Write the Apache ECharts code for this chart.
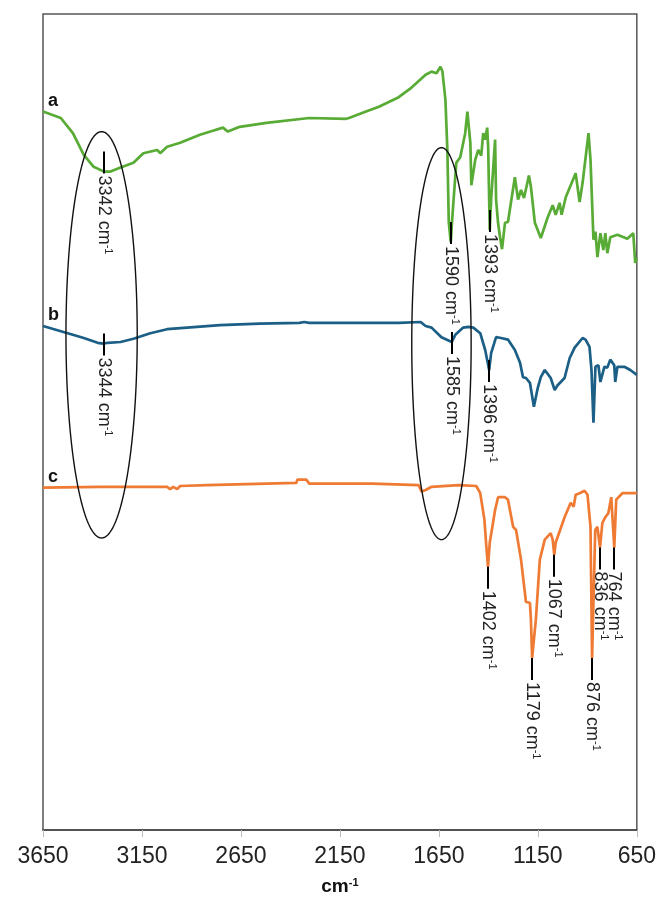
<!DOCTYPE html>
<html>
<head>
<meta charset="utf-8">
<script src="https://cdn.jsdelivr.net/npm/echarts@6/dist/echarts.min.js"></script>
<style>
  html, body { margin: 0; padding: 0; background: #fff; }
  #chart { width: 659px; height: 916px; }
</style>
</head>
<body>
<div id="chart"></div>
<script>
// FTIR spectra a, b, c: wavenumber (cm-1) against offset transmittance (a.u.)
const wavenumberTicks = [3650, 3150, 2650, 2150, 1650, 1150, 650];

const spectrumA = [
  [3650,89.8],[3560,89.0],[3499,87.1],[3444,84.4],[3394,82.9],[3342,82.3],[3309,82.3],[3258,82.8],
  [3193,83.4],[3143,84.6],[3073,85.0],[3058,84.6],[3023,85.4],[2957,85.9],[2857,86.9],[2792,87.4],
  [2741,87.8],[2716,87.3],[2656,87.9],[2521,88.4],[2305,89.0],[2119,88.9],[2104,89.0],[2018,89.8],
  [1953,90.4],[1853,91.6],[1788,92.8],[1717,94.4],[1687,94.8],[1662,94.6],[1642,95.4],[1632,94.8],
  [1617,91.3],[1607,85.0],[1600,76.0],[1590,73.5],[1582,76.6],[1562,83.4],[1542,84.1],[1517,87.1],
  [1506,89.8],[1491,85.9],[1486,80.6],[1466,83.8],[1451,85.0],[1436,84.3],[1426,87.1],[1416,86.3],
  [1406,87.8],[1401,85.4],[1393,75.0],[1386,78.8],[1366,86.3],[1361,78.8],[1351,75.9],[1341,74.1],
  [1331,72.6],[1316,75.9],[1301,76.0],[1286,78.4],[1266,81.6],[1250,78.8],[1235,80.0],[1220,79.0],
  [1195,81.8],[1185,80.4],[1165,75.9],[1135,74.0],[1100,76.6],[1075,78.1],[1060,76.9],[1040,78.4],
  [1030,76.9],[1009,79.1],[959,82.1],[939,78.5],[924,80.9],[894,87.1],[884,83.8],[869,73.8],
  [859,74.8],[849,71.6],[834,74.6],[819,72.5],[809,74.6],[799,72.1],[784,74.1],[748,74.4],
  [698,73.9],[668,74.6],[658,70.9],[650,71.5]
];

const spectrumB = [
  [3650,63.0],[3525,62.1],[3444,61.5],[3374,60.9],[3344,60.8],[3324,60.9],[3258,61.0],[3193,61.4],
  [3108,62.1],[3023,62.6],[2922,62.8],[2756,63.1],[2556,63.3],[2355,63.4],[2330,63.5],[2305,63.4],
  [2054,63.4],[1853,63.4],[1742,63.5],[1717,63.0],[1687,62.8],[1637,61.6],[1585,61.0],[1567,61.9],
  [1527,62.8],[1501,62.9],[1476,62.8],[1441,62.1],[1416,60.0],[1396,57.5],[1386,59.6],[1361,61.6],
  [1336,61.5],[1301,61.3],[1266,60.0],[1240,58.4],[1225,56.6],[1210,56.5],[1190,55.9],[1170,52.9],
  [1150,55.3],[1135,56.6],[1115,57.5],[1085,56.5],[1065,55.0],[1050,55.6],[1015,56.5],[989,59.0],
  [964,60.3],[924,61.5],[909,61.3],[889,60.4],[879,57.5],[869,50.9],[859,57.9],[844,58.1],
  [834,56.0],[814,57.9],[799,57.8],[784,58.8],[764,58.1],[759,56.0],[748,57.9],[713,57.9],
  [683,57.5],[650,56.9]
];

const spectrumC = [
  [3650,42.8],[3359,42.9],[3023,42.9],[3008,42.6],[2992,42.9],[2972,42.6],[2957,43.0],[2822,43.1],
  [2370,43.4],[2365,43.8],[2320,43.8],[2305,43.3],[1988,43.3],[1752,43.1],[1737,42.3],[1717,42.5],
  [1687,42.9],[1552,43.1],[1461,43.0],[1441,42.1],[1420,38.8],[1410,35.4],[1402,32.9],[1393,35.9],
  [1366,40.0],[1351,41.6],[1316,41.6],[1301,41.3],[1275,37.9],[1260,37.5],[1235,33.8],[1210,28.5],
  [1190,28.4],[1185,26.3],[1179,21.5],[1160,26.3],[1140,33.8],[1115,36.3],[1085,37.1],[1075,36.3],
  [1067,34.4],[1060,35.9],[1015,39.1],[984,40.9],[969,40.4],[959,41.9],[939,42.1],[914,42.4],
  [899,41.9],[884,37.9],[876,21.5],[860,37.5],[849,37.9],[836,35.3],[824,38.4],[809,39.1],
  [794,39.6],[779,41.6],[764,35.3],[754,41.3],[723,42.1],[650,42.1]
];

// Marked band positions (cm-1) for each spectrum
const peaksA = [3342, 1590, 1393];
const peaksB = [3344, 1585, 1396];
const peaksC = [1402, 1179, 1067, 876, 836, 764];

const seriesNames = ['a', 'b', 'c'];

// Highlighted regions: centre wavenumber, centre value, half-width (cm-1), half-height (a.u.)
const regionCentreWn = [3354, 1637];
const regionCentreVal = [61.9, 60.8];
const regionHalfWn = [180, 150];
const regionHalfVal = [25.4, 24.5];

const FONT = '"Liberation Sans", Arial, Helvetica, sans-serif';
const COLORS = ['#58ab34', '#1b5f86', '#ef7a33'];
const spectra = [spectrumA, spectrumB, spectrumC];
const peakSets = [peaksA, peaksB, peaksC];
// tick mark extent relative to the band minimum, in pixels [from, to]
const tickSpan = [[-20, 2], [-10, 12], [0, 22]];

function valueAt(spec, wn) {
  const row = spec.find(function (r) { return r[0] === wn; });
  return row ? row[1] : null;
}

function peakRenderer(span) {
  return function (params, api) {
    const p = api.coord([api.value(0), api.value(1)]);
    const x = Math.round(p[0]);
    const y0 = p[1] + span[0];
    const y1 = p[1] + span[1];
    return {
      type: 'group',
      children: [
        { type: 'line', shape: { x1: x, y1: y0, x2: x, y2: y1 },
          style: { stroke: '#000', lineWidth: 2 } },
        { type: 'text', x: x, y: y1 + 2, rotation: -Math.PI / 2,
          style: {
            text: '{n|' + api.value(0) + ' cm}{s|-1}',
            align: 'left', verticalAlign: 'middle',
            rich: {
              n: { fontSize: 18, fontFamily: FONT, fill: '#222', lineHeight: 20 },
              s: { fontSize: 11, fontFamily: FONT, fill: '#222', verticalAlign: 'top', lineHeight: 20 }
            }
          } }
      ]
    };
  };
}

function ellipseRenderer(params, api) {
  const c = api.coord([api.value(0), api.value(1)]);
  const ex = api.coord([api.value(0) - api.value(2), api.value(1)]);
  const ey = api.coord([api.value(0), api.value(1) + api.value(3)]);
  const rx = Math.abs(ex[0] - c[0]);
  const ry = Math.abs(ey[1] - c[1]);
  const pts = [];
  for (let i = 0; i < 180; i++) {
    const t = (i / 180) * Math.PI * 2;
    pts.push([c[0] + rx * Math.cos(t), c[1] + ry * Math.sin(t)]);
  }
  return { type: 'polygon', shape: { points: pts },
    style: { fill: 'none', stroke: '#111', lineWidth: 1.4 } };
}

function tagRenderer(label) {
  return function (params, api) {
    const p = api.coord([api.value(0), api.value(1)]);
    return { type: 'text', x: p[0] + 5, y: p[1] - 11,
      style: { text: label, fontSize: 18, fontWeight: 'bold', fontFamily: FONT,
        fill: '#111', align: 'left', verticalAlign: 'middle' } };
  };
}

const series = [];
spectra.forEach(function (spec, i) {
  series.push({
    name: seriesNames[i], type: 'line', data: spec, showSymbol: false, smooth: false,
    lineStyle: { color: COLORS[i], width: 2.7 }, itemStyle: { color: COLORS[i] },
    z: 2, animation: false
  });
});
spectra.forEach(function (spec, i) {
  // band markers with their wavenumber labels
  series.push({
    type: 'custom', coordinateSystem: 'cartesian2d',
    data: peakSets[i].map(function (w) { return [w, valueAt(spec, w)]; }),
    encode: { x: 0, y: 1 }, renderItem: peakRenderer(tickSpan[i]),
    clip: false, z: 4, animation: false, silent: true
  });
  // spectrum letter at the start of each trace
  series.push({
    type: 'custom', coordinateSystem: 'cartesian2d',
    data: [[spec[0][0], spec[0][1]]], encode: { x: 0, y: 1 },
    renderItem: tagRenderer(seriesNames[i]),
    clip: false, z: 4, animation: false, silent: true
  });
});
series.push({
  type: 'custom', coordinateSystem: 'cartesian2d',
  data: regionCentreWn.map(function (w, k) {
    return [w, regionCentreVal[k], regionHalfWn[k], regionHalfVal[k]];
  }),
  encode: { x: 0, y: 1 }, renderItem: ellipseRenderer,
  clip: false, z: 3, animation: false, silent: true
});

const chart = echarts.init(document.getElementById('chart'), null, { renderer: 'canvas' });
chart.setOption({
  animation: false,
  backgroundColor: '#fff',
  grid: { left: 43, right: 16, top: 14, bottom: 86, show: true,
    borderColor: '#555', borderWidth: 1.5, backgroundColor: 'transparent' },
  xAxis: {
    type: 'value', min: 650, max: 3650, inverse: true,
    axisLine: { show: true, lineStyle: { color: '#444', width: 1.5 } },
    axisTick: { show: true, customValues: wavenumberTicks, length: 7,
      lineStyle: { color: '#bbb', width: 1 } },
    axisLabel: { customValues: wavenumberTicks, fontSize: 23, fontFamily: FONT,
      color: '#222', margin: 15, formatter: function (v) { return String(v); } },
    splitLine: { show: false },
    name: '{b|cm}{s|-1}', nameLocation: 'middle', nameGap: 47,
    nameTextStyle: {
      rich: {
        b: { fontSize: 19, fontWeight: 'bold', fontFamily: FONT, color: '#111', lineHeight: 20 },
        s: { fontSize: 11, fontWeight: 'bold', fontFamily: FONT, color: '#111',
          verticalAlign: 'top', lineHeight: 20 }
      }
    }
  },
  yAxis: { type: 'value', min: 0, max: 102, show: false },
  series: series
});
</script>
</body>
</html>
